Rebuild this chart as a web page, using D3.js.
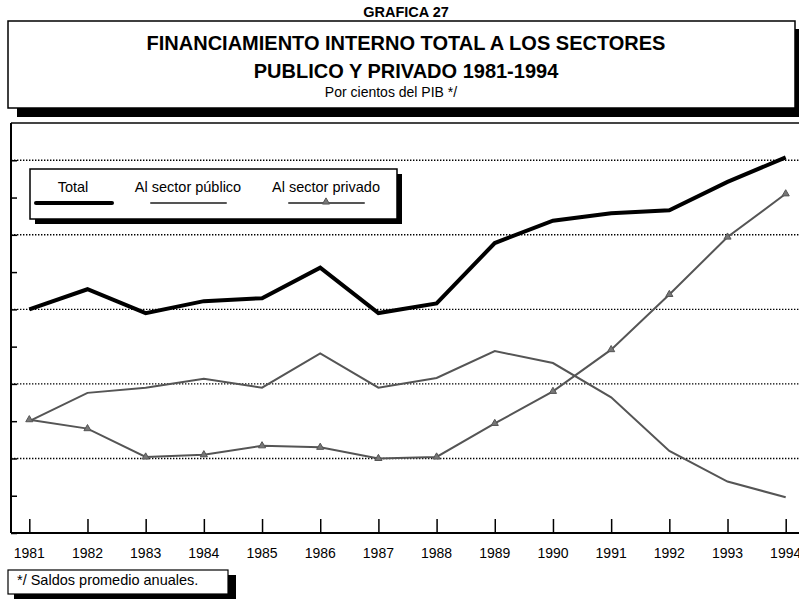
<!DOCTYPE html>
<html>
<head>
<meta charset="utf-8">
<script src="https://cdn.jsdelivr.net/npm/d3@7"></script>
<style>
  body { margin: 0; background: #fff; }
  svg { font-family: "Liberation Sans", Arial, sans-serif; display: block; }
</style>
</head>
<body>
<svg id="chart" width="799" height="600"></svg>
<script>
/* Data, in per cent of GDP */
var years = [1981, 1982, 1983, 1984, 1985, 1986, 1987, 1988, 1989, 1990, 1991, 1992, 1993, 1994];
var total = [30.0, 32.7, 29.5, 31.1, 31.5, 35.6, 29.5, 30.8, 38.9, 41.9, 42.9, 43.3, 47.1, 50.4];
var publico = [15.0, 18.8, 19.5, 20.7, 19.5, 24.1, 19.5, 20.8, 24.4, 22.8, 18.2, 11.0, 6.9, 4.8];
var privado = [15.2, 14.0, 10.2, 10.5, 11.7, 11.5, 10.0, 10.2, 14.7, 19.0, 24.6, 32.0, 39.7, 45.5];
var yTicks = [0, 5, 10, 15, 20, 25, 30, 35, 40, 45, 50];
var gridValues = [10, 20, 30, 40, 50];
var legendLabels = ["Total", "Al sector público", "Al sector privado"];

var svg = d3.select("#chart");

/* Scales */
var x = d3.scaleLinear().domain([1981, 1994]).range([29.3, 785.7]);
var y = d3.scaleLinear().domain([0, 55]).range([533, 123]);

/* Title box with its shadow */
svg.append("rect").attr("x", 17).attr("y", 29).attr("width", 787).attr("height", 88).attr("fill", "#000");
svg.append("rect").attr("x", 8).attr("y", 21).attr("width", 787).attr("height", 87)
    .attr("fill", "#fff").attr("stroke", "#000").attr("stroke-width", 1.5);

svg.append("text").attr("x", 406).attr("y", 17).attr("text-anchor", "middle")
    .attr("font-size", 14.5).attr("font-weight", "bold").text("GRAFICA 27");
svg.append("text").attr("x", 406).attr("y", 50).attr("text-anchor", "middle")
    .attr("font-size", 20).attr("font-weight", "bold").text("FINANCIAMIENTO INTERNO TOTAL A LOS SECTORES");
svg.append("text").attr("x", 406).attr("y", 78).attr("text-anchor", "middle")
    .attr("font-size", 20).attr("font-weight", "bold").text("PUBLICO Y PRIVADO 1981-1994");
svg.append("text").attr("x", 391).attr("y", 97).attr("text-anchor", "middle")
    .attr("font-size", 14).text("Por cientos del PIB */");

/* Plot frame */
svg.append("line").attr("x1", 11).attr("x2", 799).attr("y1", 123).attr("y2", 123)
    .attr("stroke", "#444").attr("stroke-width", 2);

// dotted gridlines
svg.append("g").selectAll("line")
    .data(gridValues)
    .enter().append("line")
    .attr("x1", 11).attr("x2", 799)
    .attr("y1", function(d) { return y(d); })
    .attr("y2", function(d) { return y(d); })
    .attr("stroke", "#000").attr("stroke-width", 1.4)
    .attr("stroke-dasharray", "1.4,1.6");

// left axis, ticks pointing into the plot
svg.append("g")
    .attr("transform", "translate(11,0)")
    .call(d3.axisRight(y).tickValues(yTicks).tickSize(6).tickFormat(""))
    .call(function(g) {
        g.select(".domain").attr("stroke-width", 2).attr("d", "M0,123V533");
        g.selectAll(".tick line").attr("stroke-width", 1.5);
    });

// bottom axis, ticks pointing up
svg.append("g")
    .attr("transform", "translate(0,533)")
    .call(d3.axisTop(x).tickValues(years).tickSize(14).tickFormat(""))
    .call(function(g) {
        g.select(".domain").attr("stroke-width", 2).attr("d", "M11,0H799");
        g.selectAll(".tick line").attr("stroke-width", 1.5);
    });

svg.append("g").selectAll("text")
    .data(years)
    .enter().append("text")
    .attr("x", function(d) { return x(d); })
    .attr("y", 558)
    .attr("text-anchor", "middle")
    .attr("font-size", 14)
    .text(function(d) { return d; });

/* Series lines */
function lineFor(values) {
    return d3.line()
        .x(function(d, i) { return x(years[i]); })
        .y(function(d) { return y(d); })(values);
}

svg.append("path").attr("d", lineFor(publico))
    .attr("fill", "none").attr("stroke", "#555").attr("stroke-width", 2);
svg.append("path").attr("d", lineFor(privado))
    .attr("fill", "none").attr("stroke", "#555").attr("stroke-width", 2);
svg.append("path").attr("d", lineFor(total))
    .attr("fill", "none").attr("stroke", "#000").attr("stroke-width", 4)
    .attr("stroke-linejoin", "miter");

// triangle markers on the private sector line
var tri = d3.symbol().type(d3.symbolTriangle).size(22);
svg.append("g").selectAll("path")
    .data(privado)
    .enter().append("path")
    .attr("d", tri)
    .attr("transform", function(d, i) { return "translate(" + x(years[i]) + "," + y(d) + ")"; })
    .attr("fill", "#777").attr("stroke", "#555").attr("stroke-width", 1);

/* Legend */
svg.append("rect").attr("x", 35).attr("y", 174).attr("width", 367).attr("height", 50).attr("fill", "#000");
svg.append("rect").attr("x", 30).attr("y", 169).attr("width", 367).attr("height", 50)
    .attr("fill", "#fff").attr("stroke", "#000").attr("stroke-width", 1.5);

var legendItems = [
    { label: legendLabels[0], cx: 73, x1: 36, x2: 112, color: "#000", width: 4, marker: false },
    { label: legendLabels[1], cx: 188, x1: 151, x2: 226, color: "#555", width: 2, marker: false },
    { label: legendLabels[2], cx: 326, x1: 289, x2: 364, color: "#555", width: 2, marker: true }
];
var lg = svg.append("g").selectAll("g")
    .data(legendItems)
    .enter().append("g");
lg.append("text")
    .attr("x", function(d) { return d.cx; })
    .attr("y", 192)
    .attr("text-anchor", "middle")
    .attr("font-size", 14.5)
    .text(function(d) { return d.label; });
lg.append("line")
    .attr("x1", function(d) { return d.x1; })
    .attr("x2", function(d) { return d.x2; })
    .attr("y1", 203).attr("y2", 203)
    .attr("stroke", function(d) { return d.color; })
    .attr("stroke-width", function(d) { return d.width; })
    .attr("stroke-linecap", "round");
lg.filter(function(d) { return d.marker; }).append("path")
    .attr("d", tri)
    .attr("transform", function(d) { return "translate(" + d.cx + ",202)"; })
    .attr("fill", "#777").attr("stroke", "#555").attr("stroke-width", 1);

/* Footnote box */
svg.append("rect").attr("x", 14).attr("y", 575).attr("width", 222).attr("height", 24).attr("fill", "#000");
svg.append("rect").attr("x", 8).attr("y", 570).attr("width", 220).attr("height", 24)
    .attr("fill", "#fff").attr("stroke", "#000").attr("stroke-width", 1.2);
svg.append("text").attr("x", 17).attr("y", 585).attr("font-size", 14.5)
    .text("*/ Saldos promedio anuales.");
</script>
</body>
</html>
